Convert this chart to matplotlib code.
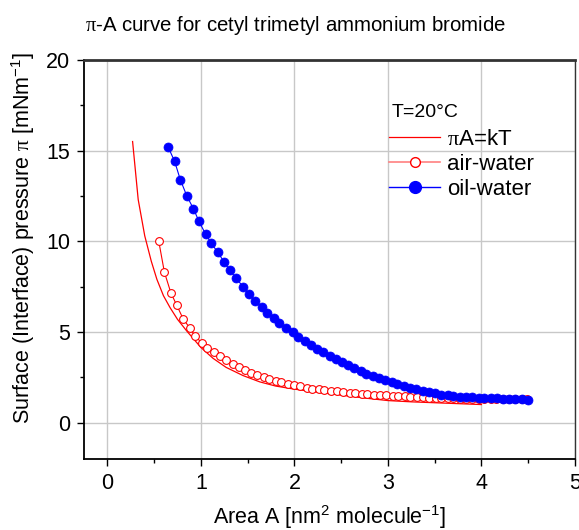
import matplotlib
matplotlib.use("Agg")
import matplotlib.pyplot as plt
from matplotlib.lines import Line2D

plt.rcParams['font.family'] = ['Liberation Sans', 'DejaVu Sans']
plt.rcParams['mathtext.fontset'] = 'custom'
plt.rcParams['mathtext.rm'] = 'Liberation Sans'
plt.rcParams['mathtext.it'] = 'Liberation Sans:italic'
plt.rcParams['mathtext.sf'] = 'Liberation Serif'

# pi A = kT reference line
kt_area = [0.27, 0.33, 0.40, 0.47, 0.53, 0.60, 0.67, 0.75, 0.85, 1.00, 1.13, 1.27,
           1.45, 1.63, 1.80, 2.00, 2.25, 2.50, 2.75, 3.00, 3.25, 3.50, 3.75, 4.00]
kt_pi = [15.5, 12.3, 10.3, 8.9, 7.9, 7.0, 6.35, 5.7, 5.05, 4.15, 3.55, 3.05,
         2.6, 2.25, 2.02, 1.85, 1.68, 1.52, 1.36, 1.22, 1.15, 1.10, 1.05, 1.00]

# air-water
air_area = [0.55, 0.61, 0.68, 0.74, 0.81, 0.88, 0.94, 1.01, 1.07, 1.14, 1.21, 1.27,
            1.34, 1.41, 1.47, 1.54, 1.60, 1.67, 1.73, 1.80, 1.86, 1.93, 2.00, 2.06,
            2.13, 2.19, 2.26, 2.32, 2.39, 2.46, 2.52, 2.59, 2.65, 2.72, 2.78, 2.85,
            2.92, 2.98, 3.05, 3.11, 3.18, 3.24, 3.31, 3.38, 3.44, 3.51, 3.57, 3.64,
            3.70, 3.77, 3.84, 3.90, 3.97, 4.03, 4.10, 4.16, 4.23, 4.30, 4.36, 4.43, 4.49]
air_pi = [10.0, 8.3, 7.15, 6.5, 5.73, 5.23, 4.77, 4.4, 4.1, 3.87, 3.65, 3.43,
          3.24, 3.07, 2.9, 2.75, 2.62, 2.51, 2.4, 2.3, 2.23, 2.14, 2.07, 2.0,
          1.94, 1.88, 1.84, 1.8, 1.77, 1.73, 1.7, 1.66, 1.63, 1.6, 1.57, 1.55,
          1.53, 1.51, 1.49, 1.47, 1.45, 1.43, 1.41, 1.40, 1.38, 1.37, 1.36, 1.35,
          1.34, 1.33, 1.33, 1.32, 1.32, 1.31, 1.31, 1.30, 1.30, 1.29, 1.29, 1.28, 1.28]

# oil-water
oil_area = [0.65, 0.72, 0.78, 0.85, 0.92, 0.98, 1.05, 1.11, 1.18, 1.25,
            1.31, 1.38, 1.45, 1.51, 1.58, 1.65, 1.71, 1.78, 1.84, 1.91,
            1.98, 2.04, 2.11, 2.18, 2.24, 2.31, 2.38, 2.44, 2.51, 2.57,
            2.64, 2.71, 2.77, 2.84, 2.91, 2.97, 3.04, 3.10, 3.17, 3.24,
            3.30, 3.37, 3.44, 3.50, 3.57, 3.64, 3.70, 3.77, 3.83, 3.90,
            3.97, 4.03, 4.10, 4.17, 4.23, 4.30, 4.36, 4.43, 4.50]
oil_pi = [15.2, 14.4, 13.4, 12.5, 11.8, 11.1, 10.4, 9.9, 9.4, 8.85,
          8.4, 7.95, 7.5, 7.1, 6.72, 6.38, 6.07, 5.77, 5.48, 5.2,
          4.98, 4.75, 4.5, 4.27, 4.08, 3.88, 3.7, 3.52, 3.33, 3.16,
          3.0, 2.84, 2.69, 2.56, 2.44, 2.33, 2.22, 2.12, 2.02, 1.93,
          1.84, 1.76, 1.68, 1.61, 1.55, 1.5, 1.46, 1.43, 1.41, 1.39,
          1.38, 1.37, 1.35, 1.34, 1.32, 1.31, 1.30, 1.29, 1.27]

x_ticks = [0, 1, 2, 3, 4, 5]
y_ticks = [0, 5, 10, 15, 20]
x_minor = [0.5, 1.5, 2.5, 3.5, 4.5]
y_minor = [2.5, 7.5, 12.5, 17.5]

fig = plt.figure(figsize=(5.79, 5.30), dpi=100)
ax = fig.add_axes([0.145, 0.134, 0.848, 0.753])

ax.grid(True, color='#c8c8c8', linewidth=1.0, zorder=0)
ax.set_axisbelow(True)

ax.plot(kt_area, kt_pi, color='#ff0000', linewidth=0.9, zorder=3)
ax.plot(air_area, air_pi, color='#ff0000', linewidth=0.8,
        marker='o', markersize=5.6, markerfacecolor='white', markeredgecolor='#ff0000',
        markeredgewidth=0.8, zorder=4)
ax.plot(oil_area, oil_pi, color='#0000ff', linewidth=0.8,
        marker='o', markersize=6.5, markerfacecolor='#0000ff', markeredgecolor='#0000ff',
        markeredgewidth=0.5, zorder=5)

ax.set_xlim(-0.25, 5)
ax.set_ylim(-2, 20)
ax.set_xticks(x_ticks)
ax.set_yticks(y_ticks)
ax.set_xticks(x_minor, minor=True)
ax.set_yticks(y_minor, minor=True)
ax.tick_params(axis='both', which='major', direction='out', length=5, width=1,
               labelsize=15.5, colors='black', pad=5)
ax.tick_params(axis='both', which='minor', direction='out', length=3, width=1)
ax.grid(False, which='minor')

for s in ['left', 'bottom']:
    ax.spines[s].set_linewidth(1.3)
    ax.spines[s].set_color('black')
ax.spines['top'].set_linewidth(2.0)
ax.spines['top'].set_color('#333333')
ax.spines['right'].set_linewidth(1.0)
ax.spines['right'].set_color('#333333')

ax.set_xlabel(r'Area A [nm$^2$ molecule$^{-1}$]', fontsize=15.5)
ax.set_ylabel(r'Surface (Interface) pressure $\mathsf{\pi}$ [mNm$^{-1}$]', fontsize=15.5)
ax.xaxis.set_label_coords(0.5, -0.11)
ax.yaxis.set_label_coords(-0.096, 0.554)

fig.text(0.51, 0.952, r'$\mathsf{\pi}$-A curve for cetyl trimetyl ammonium bromide',
         ha='center', va='center', fontsize=14.7)

ax.text(0.626, 0.867, 'T=20°C', transform=ax.transAxes, ha='left', va='center',
        fontsize=14)

handles = [
    Line2D([], [], color='#ff0000', linewidth=0.9),
    Line2D([], [], color='#ff8080', linewidth=1.2, marker='o', markersize=7,
           markerfacecolor='white', markeredgecolor='#ff0000', markeredgewidth=1.0),
    Line2D([], [], color='#0000ff', linewidth=1.0, marker='o', markersize=8.5,
           markerfacecolor='#0000ff', markeredgecolor='#0000ff'),
]
labels = [r'$\mathsf{\pi}$A=kT', 'air-water', 'oil-water']
leg = ax.legend(handles, labels, loc='upper left', bbox_to_anchor=(0.622, 0.8275),
                frameon=False, fontsize=16,
                handlelength=2.3, handletextpad=0.3, labelspacing=0.19,
                borderaxespad=0.0, borderpad=0.0)

fig.savefig('out.png', dpi=100)
